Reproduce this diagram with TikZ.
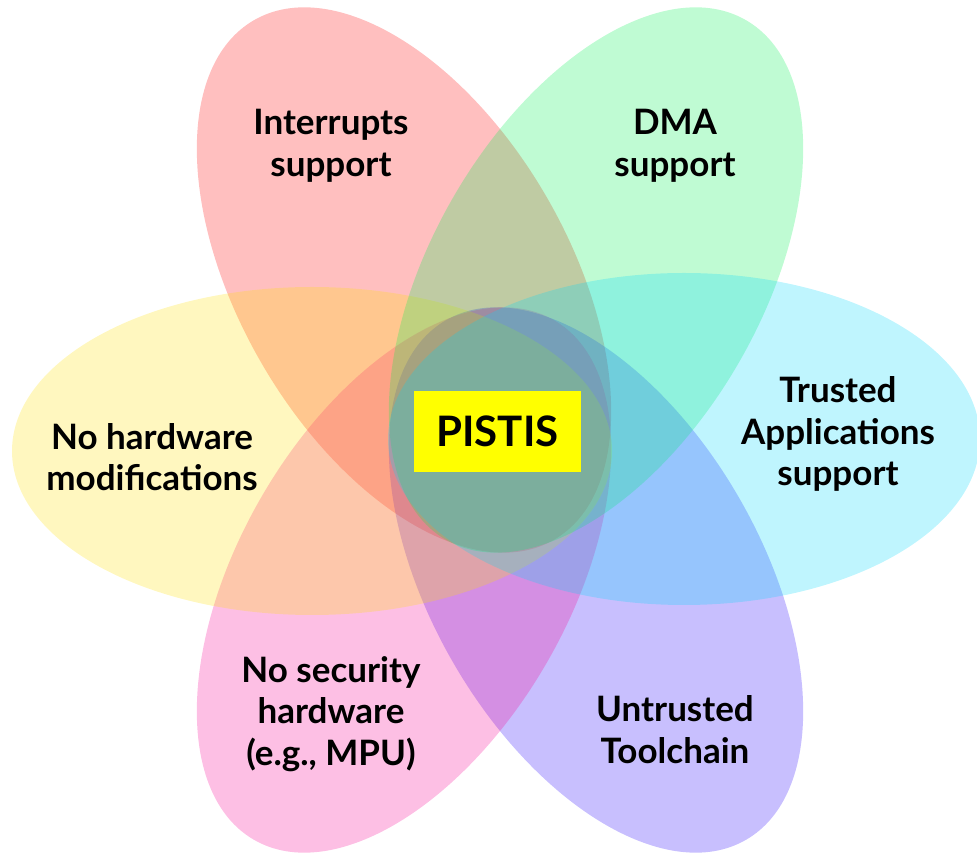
\documentclass[tikz,border=0pt]{standalone}
\usepackage{fontspec}
\setmainfont{Lato}
\definecolor{cRed}{RGB}{255,0,0}
\definecolor{cGreen}{RGB}{0,240,80}
\definecolor{cCyan}{RGB}{0,215,250}
\definecolor{cYellow}{RGB}{255,225,0}
\definecolor{cPink}{RGB}{247,0,147}
\definecolor{cPurple}{RGB}{35,0,250}
\definecolor{cBox}{RGB}{255,255,0}
\begin{document}
\begin{tikzpicture}[x=1pt,y=1pt,
  petal/.style={fill opacity=0.25, draw=none},
  lbl/.style={font=\fontsize{35}{41.5}\selectfont\bfseries, align=center, text=black, inner sep=0pt}]
\useasboundingbox (0,0) rectangle (977,854);
% petals (y measured upward)
\fill[cRed, petal]    (404,574) circle [x radius=300, y radius=165, rotate=-60];
\fill[cPurple, petal] (596,274) circle [x radius=300, y radius=165, rotate=-60];
\fill[cPink, petal]   (404,274) circle [x radius=300, y radius=165, rotate=60];
\fill[cYellow, petal] (312,403) circle [x radius=300, y radius=164];
\fill[cGreen, petal]  (596,574) circle [x radius=300, y radius=165, rotate=60];
\fill[cCyan, petal]   (684,415) circle [x radius=296, y radius=166];
% labels
\node[lbl] (intr) at (331,708) {Interrupts\\support};
\node[lbl] (dma)  at (675,708) {DMA\\support};
\node[lbl] (nohw) at (152,397) {No hardware\\modifications};
\node[lbl] (ta)   at (838,420) {Trusted\\Applications\\support};
\node[lbl] (nosec) at (331,140) {No security\\hardware\\(e.g., MPU)};
\node[lbl] (untr) at (675,124.5) {Untrusted\\Toolchain};
\node[fill=cBox, minimum width=167, minimum height=81, inner sep=0pt,
      font=\fontsize{42}{48}\selectfont\bfseries] (pistis) at (497.5,422.5) {PISTIS};
\end{tikzpicture}
\end{document}
